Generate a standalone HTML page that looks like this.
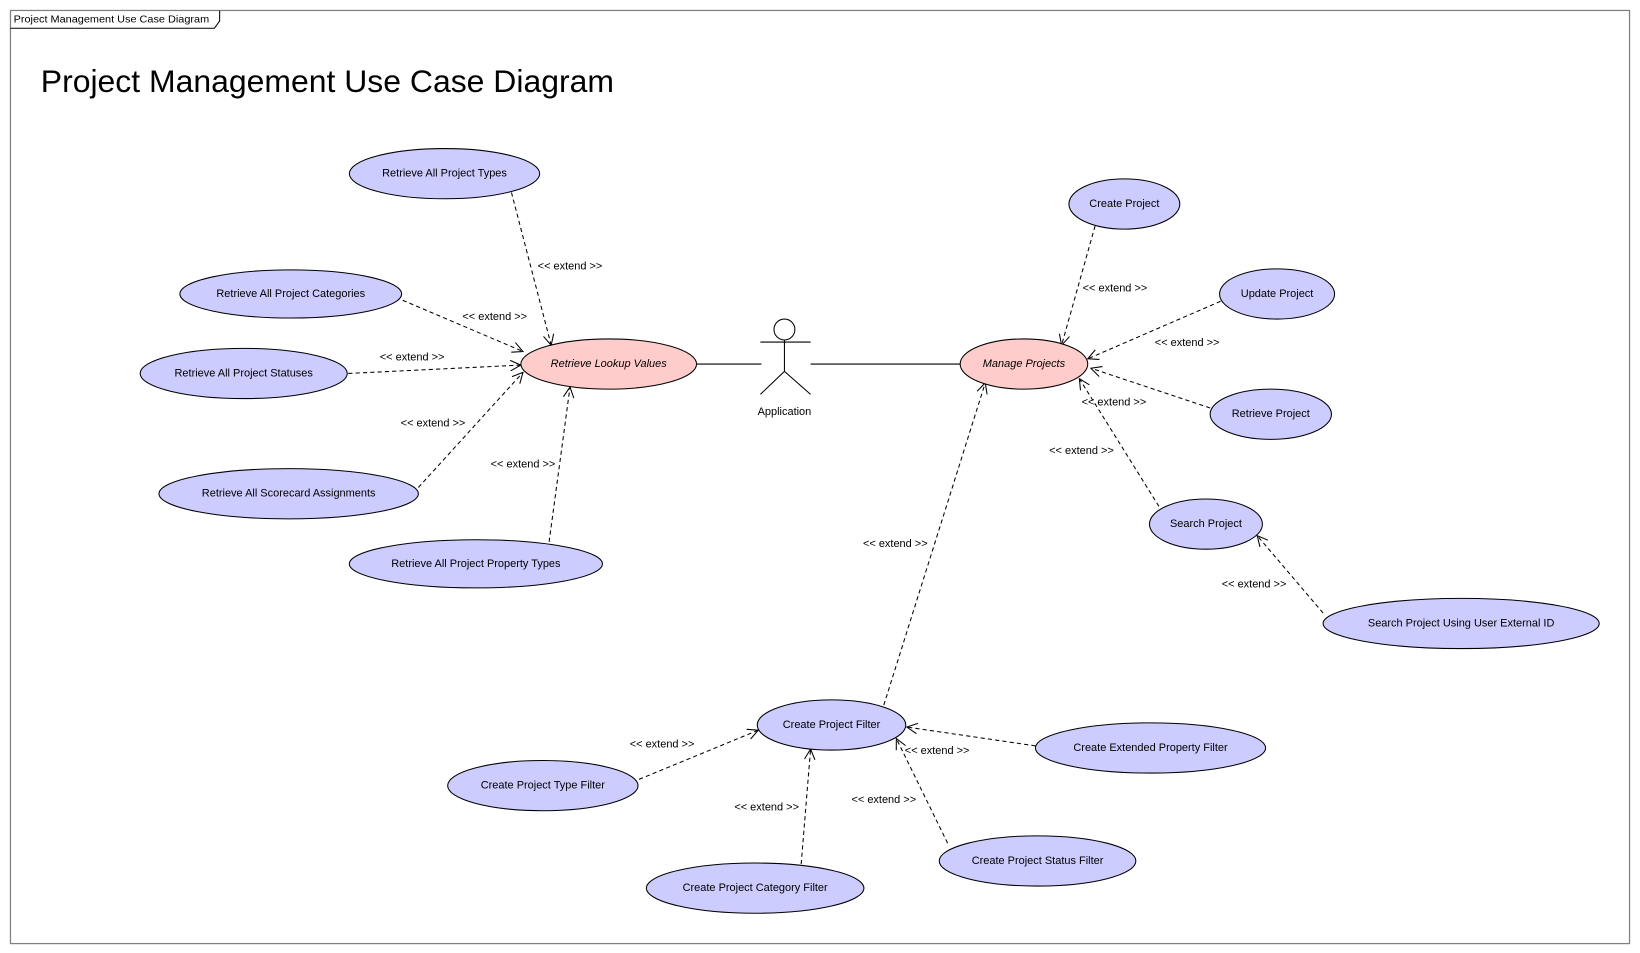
<!DOCTYPE html>
<html><head><meta charset="utf-8"><style>
html,body{margin:0;padding:0;background:#fff;}
svg{display:block;}
text{font-family:"Liberation Sans",Arial,sans-serif;fill:#000;}
.s{font-size:10.5px;text-anchor:middle;dominant-baseline:middle;}
.e{fill:#ccccff;stroke:#000;stroke-width:1;}
.p{fill:#ffcccc;stroke:#000;stroke-width:1;}
.d{stroke:#000;stroke-width:1;stroke-dasharray:4,3;fill:none;marker-end:url(#a);}
</style></head><body>
<svg width="1640" height="953" viewBox="0 0 1568 911" preserveAspectRatio="none">
<defs><marker id="a" viewBox="0 0 12 12" refX="11" refY="6" markerWidth="12" markerHeight="12" markerUnits="userSpaceOnUse" orient="auto"><path d="M1,1 L11,6 L1,11" fill="none" stroke="#000" stroke-width="1"/></marker></defs>
<rect x="10" y="10" width="1548" height="892" fill="none" stroke="#808080" stroke-width="1.2"/>
<path d="M10,27 L205,27 L210,20 L210,10" fill="none" stroke="#000" stroke-width="1"/>
<text x="13" y="19" textLength="187" lengthAdjust="spacingAndGlyphs" style="font-size:10px;dominant-baseline:middle">Project Management Use Case Diagram</text>
<text x="39" y="88" textLength="548" lengthAdjust="spacingAndGlyphs" style="font-size:30px">Project Management Use Case Diagram</text>

<line class="d" x1="489" y1="184" x2="527" y2="330"/>
<line class="d" x1="385" y1="287" x2="500" y2="336"/>
<line class="d" x1="333" y1="357" x2="498" y2="349"/>
<line class="d" x1="400" y1="466" x2="500" y2="356"/>
<line class="d" x1="525" y1="518" x2="545" y2="370"/>
<line class="d" x1="1047" y1="216" x2="1015" y2="330"/>
<line class="d" x1="1167" y1="288" x2="1040" y2="343"/>
<line class="d" x1="1157" y1="390" x2="1043" y2="352"/>
<line class="d" x1="1108" y1="484" x2="1032" y2="362"/>
<line class="d" x1="1265" y1="586" x2="1202" y2="512"/>
<line class="d" x1="845" y1="674" x2="942" y2="366"/>
<line class="d" x1="611" y1="745" x2="725" y2="698"/>
<line class="d" x1="766" y1="826" x2="775" y2="716"/>
<line class="d" x1="906" y1="806" x2="857" y2="706"/>
<line class="d" x1="990" y1="713" x2="867" y2="695"/>

<g class="s">
<text class="s" x="545" y="255">&lt;&lt; extend &gt;&gt;</text>
<text class="s" x="473" y="303">&lt;&lt; extend &gt;&gt;</text>
<text class="s" x="394" y="342">&lt;&lt; extend &gt;&gt;</text>
<text class="s" x="414" y="405">&lt;&lt; extend &gt;&gt;</text>
<text class="s" x="500" y="444">&lt;&lt; extend &gt;&gt;</text>
<text class="s" x="1066" y="276">&lt;&lt; extend &gt;&gt;</text>
<text class="s" x="1135" y="328">&lt;&lt; extend &gt;&gt;</text>
<text class="s" x="1065" y="385">&lt;&lt; extend &gt;&gt;</text>
<text class="s" x="1034" y="431">&lt;&lt; extend &gt;&gt;</text>
<text class="s" x="1199" y="559">&lt;&lt; extend &gt;&gt;</text>
<text class="s" x="856" y="520">&lt;&lt; extend &gt;&gt;</text>
<text class="s" x="633" y="712">&lt;&lt; extend &gt;&gt;</text>
<text class="s" x="733" y="772">&lt;&lt; extend &gt;&gt;</text>
<text class="s" x="845" y="765">&lt;&lt; extend &gt;&gt;</text>
<text class="s" x="896" y="718">&lt;&lt; extend &gt;&gt;</text>
</g>

<line x1="666" y1="348" x2="728" y2="348" stroke="#000"/>
<line x1="775" y1="348" x2="918" y2="348" stroke="#000"/>

<circle cx="750" cy="315" r="10" fill="#fff" stroke="#000"/>
<line x1="750" y1="325" x2="750" y2="355" stroke="#000"/>
<line x1="727" y1="327" x2="775" y2="327" stroke="#000"/>
<line x1="750" y1="355" x2="727" y2="377" stroke="#000"/>
<line x1="750" y1="355" x2="775" y2="377" stroke="#000"/>
<text class="s" x="750" y="394">Application</text>

<ellipse class="e" cx="425" cy="166" rx="91" ry="24"/><text class="s" x="425" y="166">Retrieve All Project Types</text>
<ellipse class="e" cx="278" cy="281" rx="106" ry="23"/><text class="s" x="278" y="281">Retrieve All Project Categories</text>
<ellipse class="e" cx="233" cy="357" rx="99" ry="24"/><text class="s" x="233" y="357">Retrieve All Project Statuses</text>
<ellipse class="e" cx="276" cy="472" rx="124" ry="24"/><text class="s" x="276" y="472">Retrieve All Scorecard Assignments</text>
<ellipse class="e" cx="455" cy="539" rx="121" ry="23"/><text class="s" x="455" y="539">Retrieve All Project Property Types</text>
<ellipse class="p" cx="582" cy="348" rx="84" ry="24"/><text class="s" x="582" y="348" font-style="italic">Retrieve Lookup Values</text>
<ellipse class="p" cx="979" cy="348" rx="61" ry="24"/><text class="s" x="979" y="348" font-style="italic">Manage Projects</text>
<ellipse class="e" cx="1075" cy="195" rx="53" ry="24"/><text class="s" x="1075" y="195">Create Project</text>
<ellipse class="e" cx="1221" cy="281" rx="55" ry="24"/><text class="s" x="1221" y="281">Update Project</text>
<ellipse class="e" cx="1215" cy="396" rx="58" ry="24"/><text class="s" x="1215" y="396">Retrieve Project</text>
<ellipse class="e" cx="1153" cy="501" rx="54" ry="24"/><text class="s" x="1153" y="501">Search Project</text>
<ellipse class="e" cx="1397" cy="596" rx="132" ry="24"/><text class="s" x="1397" y="596">Search Project Using User External ID</text>
<ellipse class="e" cx="795" cy="693" rx="71" ry="24"/><text class="s" x="795" y="693">Create Project Filter</text>
<ellipse class="e" cx="519" cy="751" rx="91" ry="24"/><text class="s" x="519" y="751">Create Project Type Filter</text>
<ellipse class="e" cx="722" cy="849" rx="104" ry="24"/><text class="s" x="722" y="849">Create Project Category Filter</text>
<ellipse class="e" cx="992" cy="823" rx="94" ry="24"/><text class="s" x="992" y="823">Create Project Status Filter</text>
<ellipse class="e" cx="1100" cy="715" rx="110" ry="24"/><text class="s" x="1100" y="715">Create Extended Property Filter</text>
</svg>
</body></html>
